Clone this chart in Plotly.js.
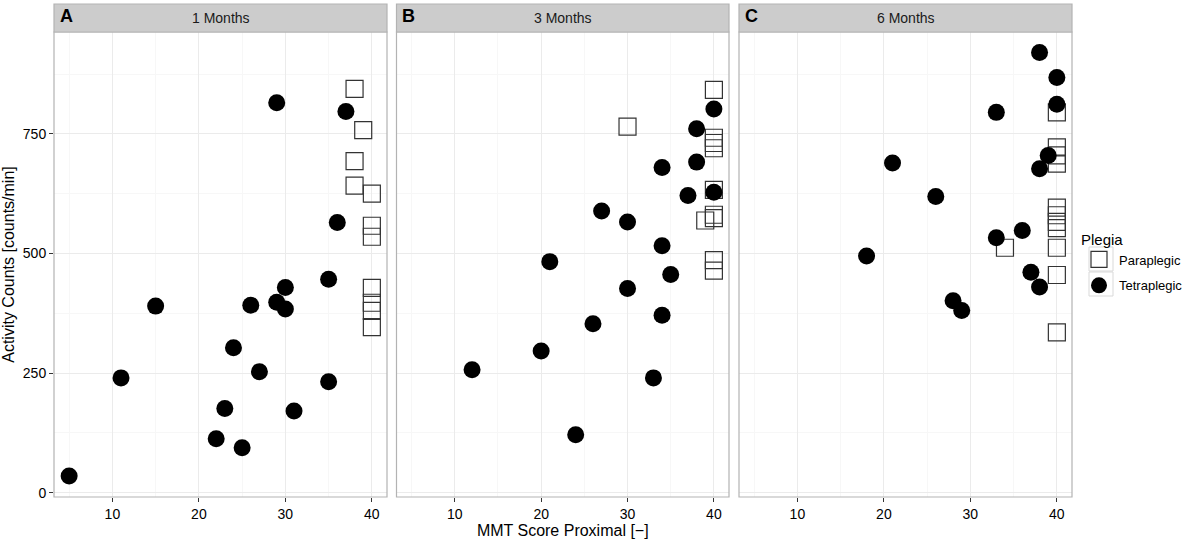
<!DOCTYPE html>
<html>
<head>
<meta charset="utf-8">
<script src="https://cdn.plot.ly/plotly-3.0.1.min.js"></script>
<style>
  body { margin: 0; background: #fff; }
  #chart { width: 1192px; height: 543px; }
</style>
</head>
<body>
<div id="chart"></div>
<script>
// facet labels
var panels = ['1 Months', '3 Months', '6 Months'];
var letters = ['A', 'B', 'C'];

// 1 month
var paraX1 = [38, 39, 38, 38, 40, 40, 40, 40, 40, 40, 40];
var paraY1 = [844, 758, 693, 642, 625, 558, 535, 428, 397, 380, 346];
var tetraX1 = [5, 11, 15, 22, 23, 24, 25, 26, 27, 29, 30, 30, 31, 35, 35, 36, 29, 37];
var tetraY1 = [35, 240, 390, 113, 176, 303, 94, 392, 253, 398, 429, 384, 171, 446, 232, 565, 815, 797];

// 3 months
var paraX3 = [40, 30, 40, 40, 40, 40, 40, 40, 39, 40, 40];
var paraY3 = [842, 765, 742, 731, 720, 633, 581, 574, 569, 486, 464];
var tetraX3 = [40, 38, 38, 34, 37, 40, 27, 30, 34, 21, 35, 30, 34, 26, 20, 12, 33, 24];
var tetraY3 = [802, 761, 691, 680, 621, 628, 589, 566, 516, 483, 456, 427, 371, 353, 296, 257, 240, 121];

// 6 months
var paraX6 = [40, 40, 40, 40, 40, 40, 40, 40, 40, 34, 40, 40];
var paraY6 = [795, 722, 705, 688, 596, 580, 566, 553, 512, 512, 455, 335];
var tetraX6 = [38, 40, 40, 33, 21, 39, 38, 26, 36, 33, 18, 37, 38, 28, 29];
var tetraY6 = [920, 868, 812, 795, 689, 705, 677, 619, 548, 533, 495, 461, 430, 401, 381];

var xTicks = [10, 20, 30, 40];
var yTicks = [0, 250, 500, 750];

var paraX = [paraX1, paraX3, paraX6];
var paraY = [paraY1, paraY3, paraY6];
var tetraX = [tetraX1, tetraX3, tetraX6];
var tetraY = [tetraY1, tetraY3, tetraY6];

var W = 1192, H = 543;
var mar = {l: 54, r: 120, t: 4, b: 46};
var plotW = W - mar.l - mar.r;
var plotH = H - mar.t - mar.b;
function px2x(px) { return (px - mar.l) / plotW; }
function py2y(py) { return (H - mar.b - py) / plotH; }

var domains = [[px2x(54), px2x(387)], [px2x(396.5), px2x(729)], [px2x(739), px2x(1072)]];
var stripBottom = py2y(32);

var data = [];
var shapes = [];
var annotations = [];
var layout = {
  width: W, height: H,
  margin: mar,
  paper_bgcolor: '#fff',
  plot_bgcolor: '#fff',
  font: {family: 'Liberation Sans, Arial, sans-serif', color: '#000', size: 13},
  showlegend: true,
  legend: {
    x: px2x(1079), y: py2y(225), xanchor: 'left', yanchor: 'top',
    title: {text: 'Plegia', font: {size: 15}},
    font: {size: 13},
    tracegroupgap: 6,
    itemwidth: 30,
    bgcolor: 'rgba(0,0,0,0)'
  },
  yaxis: {
    domain: [0, stripBottom],
    range: [-9, 963],
    tickvals: yTicks,
    ticks: 'outside', ticklen: 4, tickcolor: '#333', tickwidth: 1,
    tickfont: {size: 14, color: '#000'},
    showgrid: true, gridcolor: '#ebebeb', gridwidth: 1,
    minor: {dtick: 125, tick0: 125, showgrid: true, gridcolor: '#f7f7f7', ticks: ''},
    zeroline: false, showline: false,
    anchor: 'x',
    title: {text: 'Activity Counts [counts/min]', font: {size: 16}, standoff: 6}
  }
};

for (var i = 0; i < 3; i++) {
  var xa = i === 0 ? 'x' : 'x' + (i + 1);
  var xkey = i === 0 ? 'xaxis' : 'xaxis' + (i + 1);

  data.push({
    x: paraX[i], y: paraY[i], xaxis: xa, yaxis: 'y',
    type: 'scatter', mode: 'markers', name: 'Paraplegic',
    legendgroup: 'para', showlegend: i === 0,
    marker: {symbol: 'square-open', size: 17, color: '#333', line: {width: 1.2, color: '#333'}}
  });
  data.push({
    x: tetraX[i], y: tetraY[i], xaxis: xa, yaxis: 'y',
    type: 'scatter', mode: 'markers', name: 'Tetraplegic',
    legendgroup: 'tetra', showlegend: i === 0,
    marker: {symbol: 'circle', size: 17, color: '#000', line: {width: 0}}
  });

  layout[xkey] = {
    domain: domains[i],
    anchor: 'y',
    range: [3.25, 41.75],
    tickvals: xTicks,
    ticks: 'outside', ticklen: 4, tickcolor: '#333', tickwidth: 1,
    tickfont: {size: 14, color: '#000'},
    showgrid: true, gridcolor: '#ebebeb', gridwidth: 1,
    minor: {dtick: 10, tick0: 5, showgrid: true, gridcolor: '#f7f7f7', ticks: ''},
    zeroline: false, showline: false
  };
  if (i === 1) {
    layout[xkey].title = {text: 'MMT Score Proximal [\u2212]', font: {size: 16}, standoff: 0};
  }

  // panel border
  shapes.push({
    type: 'rect', xref: xa + ' domain', yref: 'paper',
    x0: 0, x1: 1, y0: 0, y1: stripBottom,
    line: {color: '#b3b3b3', width: 1.2}, fillcolor: 'rgba(0,0,0,0)', layer: 'above'
  });
  // strip
  shapes.push({
    type: 'rect', xref: xa + ' domain', yref: 'paper',
    x0: 0, x1: 1, y0: stripBottom, y1: 1,
    line: {color: '#b3b3b3', width: 1.2}, fillcolor: '#cccccc'
  });
  annotations.push({
    text: panels[i], xref: xa + ' domain', yref: 'paper',
    x: 0.5, y: (stripBottom + 1) / 2, xanchor: 'center', yanchor: 'middle',
    showarrow: false, font: {size: 14, color: '#1a1a1a'}
  });
  annotations.push({
    text: '<b>' + letters[i] + '</b>', xref: xa + ' domain', yref: 'paper',
    x: 0.012, y: (stripBottom + 1) / 2 + 0.004, xanchor: 'left', yanchor: 'middle',
    showarrow: false, font: {size: 18, color: '#000'}
  });
}

// legend key boxes
[[247, 271], [272, 296]].forEach(function (b) {
  shapes.push({
    type: 'rect', xref: 'paper', yref: 'paper',
    x0: px2x(1089), x1: px2x(1113), y0: py2y(b[1]), y1: py2y(b[0]),
    line: {color: '#d9d9d9', width: 1}, fillcolor: 'rgba(0,0,0,0)'
  });
});

layout.shapes = shapes;
layout.annotations = annotations;

Plotly.newPlot('chart', data, layout, {displayModeBar: false, staticPlot: true});
</script>
</body>
</html>
